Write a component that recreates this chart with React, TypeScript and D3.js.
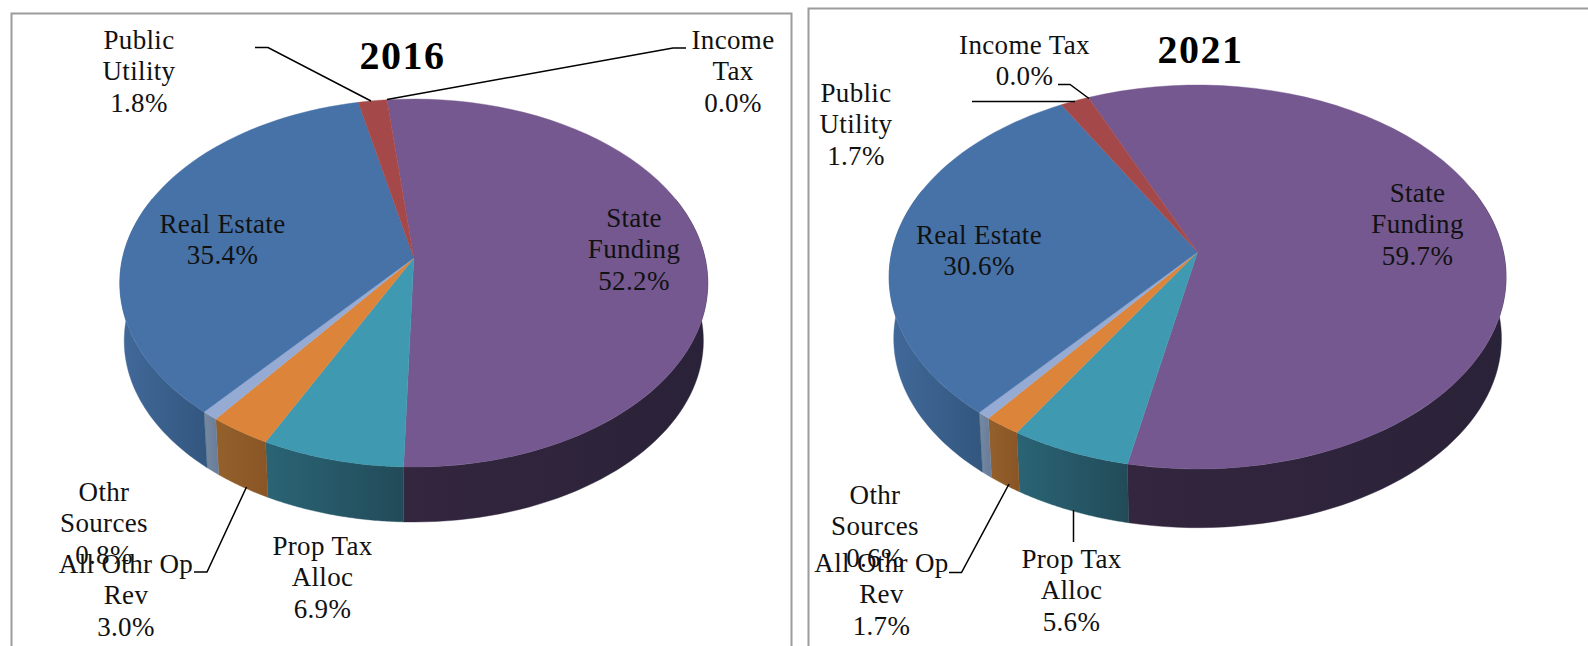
import React from "react";
import * as d3 from "d3";

const categories = ["State Funding", "Prop Tax Alloc", "All Othr Op Rev", "Othr Sources", "Real Estate", "Public Utility", "Income Tax"];
const values2016 = [52.2, 6.9, 3.0, 0.8, 35.4, 1.8, 0.0];
const values2021 = [59.7, 5.6, 1.7, 0.6, 30.6, 1.7, 0.0];

const topColors = ["#74588F", "#3F9AB1", "#DC843A", "#95ABD4", "#4672A8", "#A5484A", "#8CA552"];
const wallLeft = ["#33263E", "#2A6475", "#94602A", "#75899F", "#41699A", "#7A3536", "#6A7D3D"];
const wallRight = ["#2A2238", "#224B59", "#8A5626", "#6B7F9C", "#33577F", "#6F3031", "#5F7037"];

type Label = { cat: number; lines: string[]; x: number; y: number };

const labels2016: Label[] = [
  { cat: 5, lines: ["Public", "Utility"], x: 139, y: 49 },
  { cat: 6, lines: ["Income", "Tax"], x: 733, y: 49 },
  { cat: 4, lines: ["Real Estate"], x: 222.5, y: 233 },
  { cat: 0, lines: ["State", "Funding"], x: 634, y: 227 },
  { cat: 3, lines: ["Othr", "Sources"], x: 104, y: 501 },
  { cat: 2, lines: ["All Othr Op", "Rev"], x: 126, y: 573 },
  { cat: 1, lines: ["Prop Tax", "Alloc"], x: 322.5, y: 555 },
];
const labels2021: Label[] = [
  { cat: 6, lines: ["Income Tax"], x: 1024.5, y: 54 },
  { cat: 5, lines: ["Public", "Utility"], x: 856, y: 102 },
  { cat: 4, lines: ["Real Estate"], x: 979, y: 244 },
  { cat: 0, lines: ["State", "Funding"], x: 1417.5, y: 202 },
  { cat: 3, lines: ["Othr", "Sources"], x: 875, y: 504 },
  { cat: 2, lines: ["All Othr Op", "Rev"], x: 881.5, y: 572 },
  { cat: 1, lines: ["Prop Tax", "Alloc"], x: 1071.5, y: 568 },
];

const leaders2016 = [
  [[255, 47.5], [268, 47.5], [371, 101]],
  [[686, 48], [673, 48], [387, 99.5]],
  [[194, 572], [207, 572], [246.5, 487]],
];
const leaders2021 = [
  [[1058, 84.5], [1070, 84.5], [1089, 98.5]],
  [[972, 101.5], [1075, 101.5]],
  [[949, 572.5], [961.5, 572.5], [1009, 484]],
  [[1073.5, 510], [1073.5, 542]],
];

const charts = [
  { id: "a", title: "2016", values: values2016, labels: labels2016, leaders: leaders2016, cx: 413.8, cy: 258, up: 159, down: 209, rx: 294, wallBottom: 522, start: -6, titleX: 402.5, titleY: 69, shrink: 0.985 },
  { id: "b", title: "2021", values: values2021, labels: labels2021, leaders: leaders2021, cx: 1197.6, cy: 252, up: 167, down: 217, rx: 308.5, wallBottom: 527.7, start: -23.6, titleX: 1200.5, titleY: 63, shrink: 0.985 },
];

const LINE = 31.3;
const fmt = d3.format(".1f");
const lineGen = d3.line();
const FRONT_FROM = (70 * Math.PI) / 180;
const FRONT_TO = (290 * Math.PI) / 180;

function Pie({ c }: { c: (typeof charts)[number] }) {
  const p = (c.down - c.up) / (c.down + c.up);
  const rk = (2 * c.down * c.up) / (c.down + c.up);
  const R = c.rx * Math.sqrt(1 - p * p);
  const project = (a: number, s: number, dy: number): [number, number] => {
    const w = 1 / (1 + p * Math.cos(a));
    return [c.cx + s * R * Math.sin(a) * w, c.cy + dy - s * rk * Math.cos(a) * w];
  };
  const dy = c.wallBottom - c.cy - c.shrink * c.down;
  const rot = (c.start * Math.PI) / 180;
  const arcs = d3.pie<number>().sort(null).startAngle(rot).endAngle(rot + 2 * Math.PI)(c.values);
  const samples = (a0: number, a1: number) => d3.range(0, 61).map((i) => a0 + ((a1 - a0) * i) / 60);

  return (
    <g>
      <defs>
        {arcs.map((d, i) => {
          const xs = samples(Math.max(d.startAngle, FRONT_FROM), Math.min(d.endAngle, FRONT_TO)).map((a) => project(a, 1, 0)[0]);
          return (
            <linearGradient key={i} id={`${c.id}-w${i}`} gradientUnits="userSpaceOnUse" x1={d3.min(xs)} x2={d3.max(xs)} y1={0} y2={0}>
              <stop offset="0" stopColor={wallLeft[i]} />
              <stop offset="1" stopColor={wallRight[i]} />
            </linearGradient>
          );
        })}
      </defs>
      {arcs.map((d, i) => {
        const a0 = Math.max(d.startAngle, FRONT_FROM);
        const a1 = Math.min(d.endAngle, FRONT_TO);
        if (a1 <= a0) return null;
        const s = samples(a0, a1);
        const pts = [...s.map((a) => project(a, 1, 0)), ...s.slice().reverse().map((a) => project(a, c.shrink, dy))];
        return <path key={i} d={lineGen(pts) + "Z"} fill={`url(#${c.id}-w${i})`} stroke={`url(#${c.id}-w${i})`} strokeWidth={0.4} />;
      })}
      {arcs.map((d, i) => {
        if (d.value <= 0) return null;
        const pts: [number, number][] = [[c.cx, c.cy], ...samples(d.startAngle, d.endAngle).map((a) => project(a, 1, 0))];
        return <path key={i} d={lineGen(pts) + "Z"} fill={topColors[i]} stroke={topColors[i]} strokeWidth={0.4} />;
      })}
      {c.leaders.map((l, i) => (
        <path key={i} d={lineGen(l as [number, number][]) as string} fill="none" stroke="#000" strokeWidth={1.5} />
      ))}
      <text x={c.titleX} y={c.titleY} textAnchor="middle" fontSize={40} fontWeight="bold" letterSpacing={1.5} fill="#000">
        {c.title}
      </text>
      {c.labels.map((l) => (
        <text key={l.cat} textAnchor="middle" fontSize={27} letterSpacing={0.35} fill="#111">
          {[...l.lines, `${fmt(c.values[l.cat])}%`].map((t, j) => (
            <tspan key={j} x={l.x} y={l.y + j * LINE}>
              {t}
            </tspan>
          ))}
        </text>
      ))}
    </g>
  );
}

export default function App() {
  return (
    <svg width={1588} height={646} viewBox="0 0 1588 646" style={{ position: "fixed", left: 0, top: 0, background: "#fff", fontFamily: "'Liberation Serif', serif" }}>
      <path d="M11.5 646V13.5H791.5V646" fill="none" stroke="#9c9c9c" strokeWidth={2} />
      <path d="M808.5 646V8.5H1588" fill="none" stroke="#9c9c9c" strokeWidth={2} />
      {charts.map((c) => (
        <Pie key={c.id} c={c} />
      ))}
    </svg>
  );
}
